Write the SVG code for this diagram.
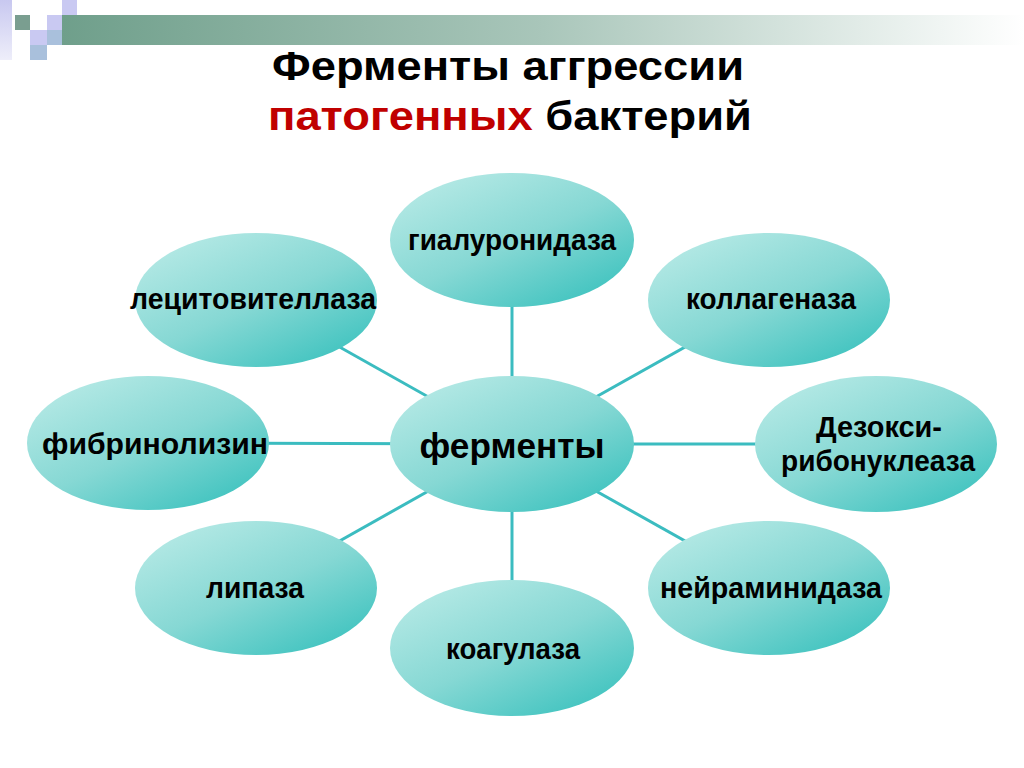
<svg xmlns="http://www.w3.org/2000/svg" width="1024" height="768" viewBox="0 0 1024 768">
<defs>
<linearGradient id="bar" x1="0" y1="0" x2="1" y2="0">
<stop offset="0" stop-color="#6f9f8b"/>
<stop offset="0.5" stop-color="#a9c6ba"/>
<stop offset="1" stop-color="#ffffff"/>
</linearGradient>
<linearGradient id="strip" x1="0" y1="0" x2="0" y2="1">
<stop offset="0" stop-color="#c8c8f0"/>
<stop offset="1" stop-color="#eeeefa"/>
</linearGradient>
<linearGradient id="ell" x1="0.15" y1="0.1" x2="0.85" y2="0.95">
<stop offset="0" stop-color="#b2e8e4"/>
<stop offset="0.5" stop-color="#86d8d4"/>
<stop offset="1" stop-color="#3fc3bf"/>
</linearGradient>
<style>
.n{fill:url(#ell)}
.t{font-family:"Liberation Sans",Arial,sans-serif;font-weight:bold;font-size:29px;fill:#000;text-anchor:middle}
.c{stroke:#3bbcc0;stroke-width:3;fill:none}
.title{font-family:"Liberation Sans",Arial,sans-serif;font-weight:bold;font-size:40px;text-anchor:middle}
</style>
</defs>
<rect width="1024" height="768" fill="#ffffff"/>
<g id="decor">
<rect x="0" y="0" width="12" height="60" fill="url(#strip)"/>
<rect x="62" y="0" width="15" height="15" fill="#c9c9f2"/>
<rect x="15" y="15" width="15" height="15" fill="#7a9e90"/>
<rect x="47" y="15" width="15" height="15" fill="#c9c9f2"/>
<rect x="62" y="15" width="15" height="15" fill="#a9c0dc"/>
<rect x="30" y="30" width="17" height="15" fill="#c9c9f2"/>
<rect x="47" y="30" width="15" height="15" fill="#a9c0dc"/>
<rect x="30" y="45" width="17" height="15" fill="#a9c0dc"/>
<rect x="62" y="15" width="962" height="30" fill="url(#bar)"/>
</g>
<g id="title">
<text class="title" x="508" y="80" textLength="472" lengthAdjust="spacingAndGlyphs">Ферменты аггрессии</text>
<text class="title" x="510" y="130" textLength="484" lengthAdjust="spacingAndGlyphs"><tspan fill="#c00000">патогенных</tspan> бактерий</text>
</g>
<g id="connectors">
<line class="c" x1="512" y1="444" x2="512" y2="240"/>
<line class="c" x1="512" y1="444" x2="512" y2="648"/>
<line class="c" x1="512" y1="444" x2="148" y2="443"/>
<line class="c" x1="512" y1="444" x2="876" y2="444"/>
<line class="c" x1="512" y1="444" x2="256" y2="300"/>
<line class="c" x1="512" y1="444" x2="769" y2="300"/>
<line class="c" x1="512" y1="444" x2="256" y2="588"/>
<line class="c" x1="512" y1="444" x2="769" y2="588"/>
</g>
<g id="center">
<ellipse class="n" cx="512" cy="444" rx="122" ry="68"/>
<text class="t" x="512" y="458" style="font-size:35px" textLength="185" lengthAdjust="spacingAndGlyphs">ферменты</text>
</g>
<g id="n-gialuronidaza">
<ellipse class="n" cx="512" cy="240" rx="122" ry="67"/>
<text class="t" x="512" y="250" textLength="208" lengthAdjust="spacingAndGlyphs">гиалуронидаза</text>
</g>
<g id="n-kollagenaza">
<ellipse class="n" cx="769" cy="300" rx="121" ry="67"/>
<text class="t" x="771" y="309" textLength="170" lengthAdjust="spacingAndGlyphs">коллагеназа</text>
</g>
<g id="n-dezoksi">
<ellipse class="n" cx="876" cy="444" rx="121" ry="68"/>
<text class="t" x="879" y="437" textLength="126" lengthAdjust="spacingAndGlyphs">Дезокси-</text>
<text class="t" x="878" y="471" textLength="194" lengthAdjust="spacingAndGlyphs">рибонуклеаза</text>
</g>
<g id="n-neiraminidaza">
<ellipse class="n" cx="769" cy="588" rx="121" ry="67"/>
<text class="t" x="771" y="598" textLength="222" lengthAdjust="spacingAndGlyphs">нейраминидаза</text>
</g>
<g id="n-koagulaza">
<ellipse class="n" cx="512" cy="648" rx="122" ry="68"/>
<text class="t" x="513" y="659" textLength="134" lengthAdjust="spacingAndGlyphs">коагулаза</text>
</g>
<g id="n-lipaza">
<ellipse class="n" cx="256" cy="588" rx="121" ry="67"/>
<text class="t" x="255" y="598" textLength="98" lengthAdjust="spacingAndGlyphs">липаза</text>
</g>
<g id="n-fibrinolizin">
<ellipse class="n" cx="148" cy="443" rx="121" ry="67"/>
<text class="t" x="155" y="454" textLength="226" lengthAdjust="spacingAndGlyphs">фибринолизин</text>
</g>
<g id="n-lecitovitellaza">
<ellipse class="n" cx="256" cy="300" rx="121" ry="67"/>
<text class="t" x="253" y="309" textLength="246" lengthAdjust="spacingAndGlyphs">лецитовителлаза</text>
</g>
</svg>
